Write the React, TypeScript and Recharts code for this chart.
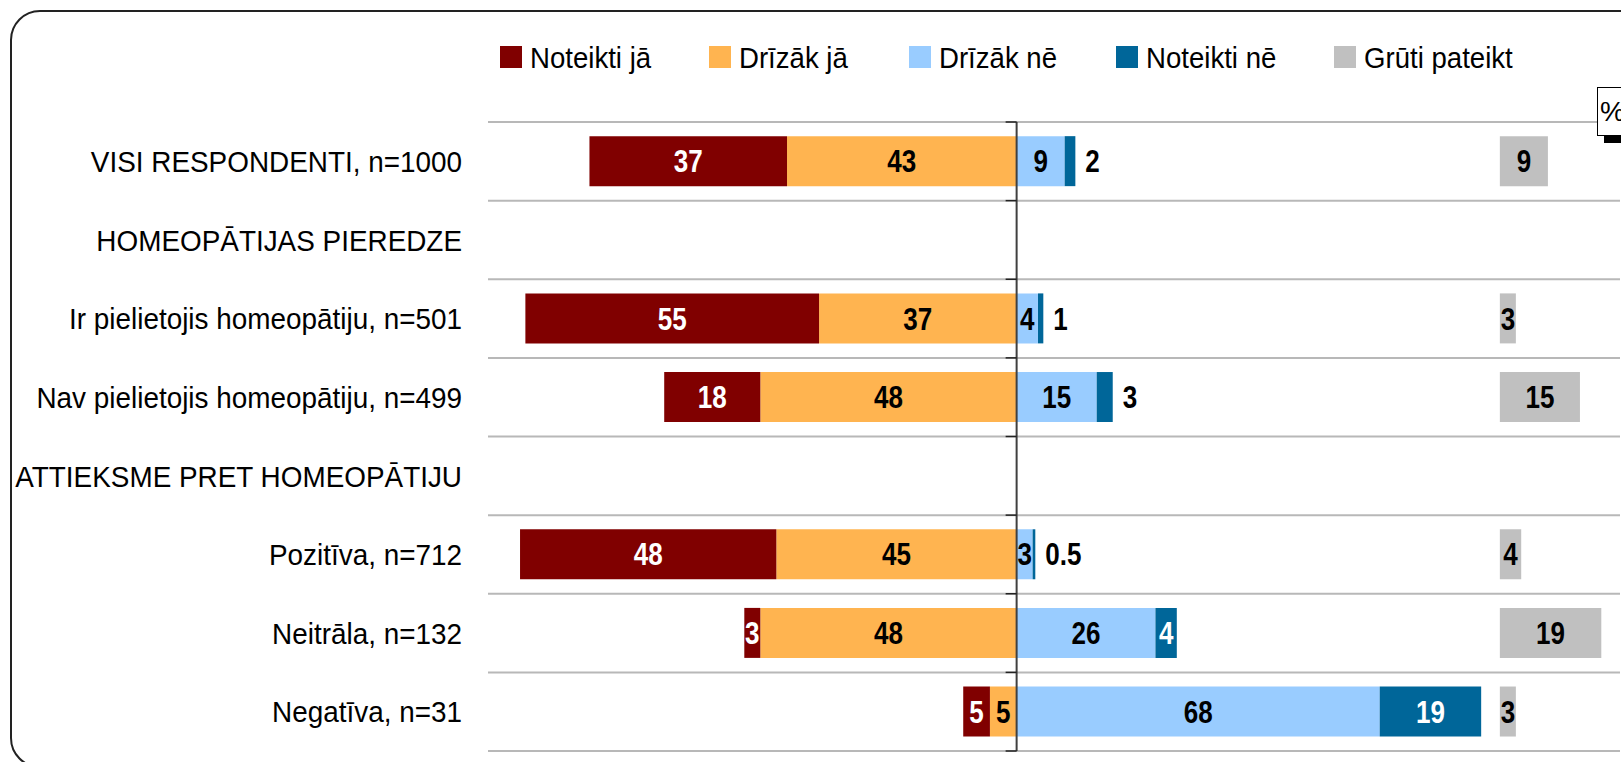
import {
  Bar,
  BarChart,
  CartesianGrid,
  LabelList,
  ReferenceLine,
  XAxis,
  YAxis,
} from "recharts";

const categories = [
  "VISI RESPONDENTI, n=1000",
  "HOMEOPĀTIJAS PIEREDZE",
  "Ir pielietojis homeopātiju, n=501",
  "Nav pielietojis homeopātiju, n=499",
  "ATTIEKSME PRET HOMEOPĀTIJU",
  "Pozitīva, n=712",
  "Neitrāla, n=132",
  "Negatīva, n=31",
];

// null = section header row, no bars
const noteiktiJa = [37, null, 55, 18, null, 48, 3, 5];
const drizakJa = [43, null, 37, 48, null, 45, 48, 5];
const drizakNe = [9, null, 4, 15, null, 3, 26, 68];
const noteiktiNe = [2, null, 1, 3, null, 0.5, 4, 19];
const grutiPateikt = [9, null, 3, 15, null, 4, 19, 3];

const seriesNames = ["Noteikti jā", "Drīzāk jā", "Drīzāk nē", "Noteikti nē", "Grūti pateikt"];
const seriesColors = ["#800000", "#FFB450", "#99CCFF", "#006699", "#C0C0C0"];

// "grūti pateikt" column starts at this value on the x scale
const GRAY_OFFSET = 90.5;
const FONT = "'Liberation Sans', Arial, Helvetica, sans-serif";
const LEGEND_X = [500, 709, 909, 1116, 1334];

const data = categories.map((label, i) => {
  const dn = drizakNe[i] ?? 0;
  const nn = noteiktiNe[i] ?? 0;
  return {
    label,
    dj: -(drizakJa[i] ?? 0),
    nj: -(noteiktiJa[i] ?? 0),
    dn,
    nn,
    spacer: GRAY_OFFSET - dn - nn,
    gp: grutiPateikt[i] ?? 0,
  };
});

function valueLabel(color: string, outsideBelow = 0) {
  return (props: any) => {
    const { x, y, width, height, value } = props;
    if (value == null || value === 0) return null;
    const v = Math.abs(Number(value));
    const left = Math.min(x, x + width);
    const right = Math.max(x, x + width);
    const cy = y + height / 2;
    const outside = v < outsideBelow;
    const cx = outside ? right + 10 : (left + right) / 2;
    return (
      <g transform={`translate(${cx},${cy}) scale(0.84,1)`}>
        <text
          textAnchor={outside ? "start" : "middle"}
          dy="0.36em"
          fontSize={31}
          fontWeight="bold"
          fontFamily={FONT}
          fill={outside ? "#000" : color}
        >
          {v}
        </text>
      </g>
    );
  };
}

function CategoryTick(props: any) {
  const { y, payload } = props;
  return (
    <g transform={`translate(462,${y}) scale(0.93,1)`}>
      <text textAnchor="end" dy="0.36em" fontSize={30} fontFamily={FONT} fill="#000">
        {payload.value}
      </text>
    </g>
  );
}

function ZeroAxis(props: any) {
  const { x1, y1, y2 } = props;
  const n = categories.length;
  const step = (y2 - y1) / n;
  return (
    <g>
      <line x1={x1} y1={y1} x2={x1} y2={y2} stroke="#404040" strokeWidth={2} />
      {Array.from({ length: n + 1 }, (_, i) => (
        <line
          key={i}
          x1={x1 - 11}
          x2={x1}
          y1={y1 + i * step}
          y2={y1 + i * step}
          stroke="#222"
          strokeWidth={1.5}
        />
      ))}
    </g>
  );
}

function LegendRow() {
  return (
    <svg width={1621} height={100} style={{ position: "absolute", left: 0, top: 0 }}>
      {seriesNames.map((name, i) => (
        <g key={name}>
          <rect x={LEGEND_X[i]} y={46} width={22} height={22} fill={seriesColors[i]} />
          <g transform={`translate(${LEGEND_X[i] + 30},57) scale(0.92,1)`}>
            <text dy="0.36em" fontSize={30} fontFamily={FONT} fill="#000">
              {name}
            </text>
          </g>
        </g>
      ))}
    </svg>
  );
}

export default function App() {
  return (
    <div style={{ position: "fixed", left: 0, top: 0, width: 1621, height: 762, overflow: "hidden", background: "#fff" }}>
      <div
        style={{
          position: "absolute",
          left: 10,
          top: 10,
          width: 1640,
          height: 754,
          border: "2px solid #222",
          borderRadius: 30,
        }}
      />
      <LegendRow />
      <div style={{ position: "absolute", left: 0, top: 0 }}>
        <BarChart
          width={1621}
          height={762}
          data={data}
          layout="vertical"
          stackOffset="sign"
          barCategoryGap="18%"
          margin={{ top: 122, right: 1, bottom: 11, left: 0 }}
        >
          <CartesianGrid
            vertical={false}
            stroke="#b8b8b8"
            strokeWidth={2}
            horizontalCoordinatesGenerator={({ offset }: any) =>
              Array.from({ length: categories.length + 1 }, (_, i) => offset.top + (i * offset.height) / categories.length)
            }
          />
          <XAxis type="number" domain={[-99, 113]} hide allowDataOverflow />
          <YAxis
            type="category"
            dataKey="label"
            width={488}
            axisLine={false}
            tickLine={false}
            interval={0}
            tick={<CategoryTick />}
          />
          <Bar dataKey="dj" stackId="s" fill={seriesColors[1]} isAnimationActive={false}>
            <LabelList dataKey="dj" content={valueLabel("#000")} />
          </Bar>
          <Bar dataKey="nj" stackId="s" fill={seriesColors[0]} isAnimationActive={false}>
            <LabelList dataKey="nj" content={valueLabel("#fff")} />
          </Bar>
          <Bar dataKey="dn" stackId="s" fill={seriesColors[2]} isAnimationActive={false}>
            <LabelList dataKey="dn" content={valueLabel("#000")} />
          </Bar>
          <Bar dataKey="nn" stackId="s" fill={seriesColors[3]} isAnimationActive={false}>
            <LabelList dataKey="nn" content={valueLabel("#fff", 4)} />
          </Bar>
          <Bar dataKey="spacer" stackId="s" fill="transparent" isAnimationActive={false} />
          <Bar dataKey="gp" stackId="s" fill={seriesColors[4]} isAnimationActive={false}>
            <LabelList dataKey="gp" content={valueLabel("#000")} />
          </Bar>
          <ReferenceLine x={0} shape={<ZeroAxis />} />
        </BarChart>
      </div>
      <div
        style={{
          position: "absolute",
          left: 1597,
          top: 87,
          width: 40,
          height: 47,
          border: "1px solid #000",
          background: "#fff",
          boxShadow: "7px 7px 0 #000",
          fontFamily: FONT,
          fontSize: 28,
          lineHeight: "47px",
          paddingLeft: 2,
        }}
      >
        %
      </div>
    </div>
  );
}
